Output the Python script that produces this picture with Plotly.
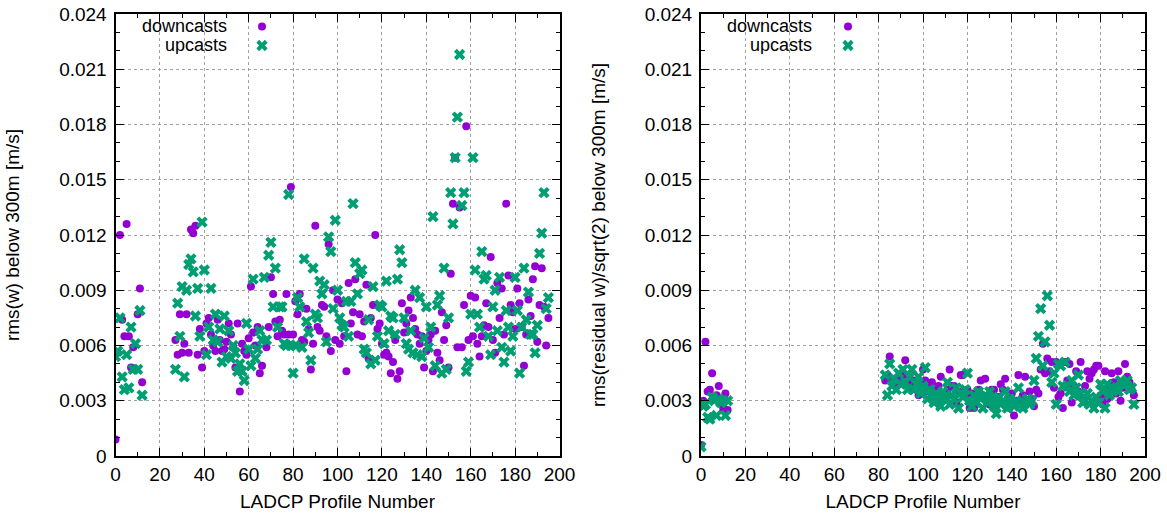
import plotly.graph_objects as go

# ---------------- data ----------------
# left panel: rms(w) below 300m
left_profiles = list(range(0, 13)) + list(range(27, 196))
left_down = [
    0.0009, 0.0056, 0.0120, 0.0074, 0.0065, 0.0126, 0.0065, 0.0048, 0.0059, 0.0047, 0.0077, 0.0091, 0.0040,
    # 27-
    0.0063, 0.0055, 0.0077, 0.0056, 0.0061, 0.0077, 0.0056, 0.0123, 0.0121, 0.0125,
    0.0055, 0.0069, 0.0048, 0.0057, 0.0072, 0.0075, 0.0066, 0.0060, 0.0057, 0.0074,
    0.0063, 0.0057, 0.0058, 0.0062, 0.0072, 0.0066, 0.0059, 0.0048, 0.0072, 0.0035,
    0.0061, 0.0057, 0.0055, 0.0064, 0.0092, 0.0067, 0.0060, 0.0070, 0.0045, 0.0049,
    0.0063, 0.0059, 0.0070, 0.0097, 0.0088, 0.0073, 0.0065, 0.0074, 0.0068, 0.0066,
    0.0088, 0.0066, 0.0146, 0.0066, 0.0084, 0.0077, 0.0088, 0.0063, 0.0062, 0.0080,
    0.0069, 0.0047, 0.0061, 0.0125, 0.0070, 0.0068, 0.0082, 0.0081, 0.0065, 0.0115,
    0.0057, 0.0090, 0.0063, 0.0085, 0.0061, 0.0083, 0.0065, 0.0046, 0.0094, 0.0072,
    0.0078, 0.0096, 0.0066, 0.0077, 0.0065, 0.0073, 0.0093, 0.0053, 0.0075, 0.0082,
    0.0120, 0.0069, 0.0072, 0.0061, 0.0055, 0.0056, 0.0054, 0.0045, 0.0051, 0.0063,
    0.0042, 0.0046, 0.0083, 0.0067, 0.0072, 0.0079, 0.0086, 0.0075, 0.0069, 0.0066,
    0.0061, 0.0065, 0.0048, 0.0057, 0.0063, 0.0066, 0.0046, 0.0068, 0.0056, 0.0052,
    0.0078, 0.0063, 0.0071, 0.0048, 0.0099, 0.0137, 0.0162, 0.0059, 0.0135, 0.0059,
    0.0082, 0.0179, 0.0063, 0.0087, 0.0065, 0.0086, 0.0061, 0.0054, 0.0065, 0.0071,
    0.0083, 0.0070, 0.0108, 0.0063, 0.0056, 0.0094, 0.0075, 0.0091, 0.0066, 0.0137,
    0.0098, 0.0082, 0.0078, 0.0069, 0.0091, 0.0083, 0.0070, 0.0049, 0.0066, 0.0085,
    0.0076, 0.0096, 0.0103, 0.0062, 0.0082, 0.0102, 0.0081, 0.0060, 0.0075,
]
left_up = [
    0.0054, 0.0057, 0.0075, 0.0043, 0.0036, 0.0055, 0.0037, 0.0070, 0.0047, 0.0061, 0.0047, 0.0079, 0.0033,
    # 27-
    0.0047, 0.0083, 0.0065, 0.0092, 0.0043, 0.0090, 0.0104, 0.0107, 0.0100, 0.0076,
    0.0091, 0.0065, 0.0127, 0.0101, 0.0055, 0.0070, 0.0091, 0.0063, 0.0077, 0.0062,
    0.0069, 0.0051, 0.0076, 0.0054, 0.0068, 0.0053, 0.0060, 0.0056, 0.0046, 0.0050,
    0.0046, 0.0041, 0.0072, 0.0058, 0.0049, 0.0096, 0.0053, 0.0058, 0.0068, 0.0063,
    0.0097, 0.0063, 0.0109, 0.0116, 0.0081, 0.0102, 0.0070, 0.0081, 0.0081, 0.0061,
    0.0060, 0.0142, 0.0060, 0.0045, 0.0060, 0.0086, 0.0081, 0.0059, 0.0107, 0.0073,
    0.0067, 0.0052, 0.0102, 0.0077, 0.0075, 0.0095, 0.0088, 0.0093, 0.0062, 0.0119,
    0.0111, 0.0080, 0.0128, 0.0090, 0.0075, 0.0071, 0.0070, 0.0084, 0.0065, 0.0084,
    0.0137, 0.0105, 0.0088, 0.0099, 0.0101, 0.0058, 0.0056, 0.0074, 0.0050, 0.0092,
    0.0052, 0.0065, 0.0082, 0.0081, 0.0061, 0.0095, 0.0068, 0.0076, 0.0075, 0.0066,
    0.0096, 0.0112, 0.0105, 0.0075, 0.0061, 0.0058, 0.0068, 0.0056, 0.0090, 0.0055,
    0.0086, 0.0054, 0.0064, 0.0081, 0.0059, 0.0070, 0.0130, 0.0049, 0.0082, 0.0087,
    0.0045, 0.0102, 0.0047, 0.0075, 0.0143, 0.0126, 0.0162, 0.0184, 0.0218, 0.0136,
    0.0143, 0.0046, 0.0051, 0.0077, 0.0162, 0.0101, 0.0077, 0.0070, 0.0111, 0.0096,
    0.0098, 0.0065, 0.0055, 0.0081, 0.0090, 0.0068, 0.0097, 0.0059, 0.0051, 0.0079,
    0.0070, 0.0057, 0.0065, 0.0097, 0.0079, 0.0045, 0.0070, 0.0102, 0.0074, 0.0089,
    0.0066, 0.0066, 0.0056, 0.0071, 0.0110, 0.0121, 0.0143, 0.0080, 0.0086,
]

# right panel: rms(residual w)/sqrt(2) below 300m
right_profiles = list(range(0, 13)) + list(range(83, 196))
right_down = [
    0.0006, 0.0030, 0.0062, 0.0035, 0.0036, 0.0045, 0.0032, 0.0033, 0.0038, 0.0029, 0.0026, 0.0034, 0.0025,
    # 83-
    0.0041, 0.0044, 0.0054, 0.0040, 0.0042, 0.0038, 0.0043, 0.0041, 0.0044, 0.0052,
    0.0039, 0.0042, 0.0037, 0.0041, 0.0036, 0.0033, 0.0039, 0.0047, 0.0041, 0.0035,
    0.0037, 0.0040, 0.0032, 0.0036, 0.0038, 0.0043, 0.0034, 0.0031, 0.0036, 0.0047,
    0.0038, 0.0038, 0.0029, 0.0035, 0.0044, 0.0044, 0.0033, 0.0036, 0.0026, 0.0034,
    0.0026, 0.0030, 0.0036, 0.0041, 0.0033, 0.0042, 0.0029, 0.0028, 0.0036, 0.0036,
    0.0032, 0.0032, 0.0039, 0.0036, 0.0042, 0.0030, 0.0026, 0.0034, 0.0022, 0.0030,
    0.0044, 0.0028, 0.0033, 0.0043, 0.0030, 0.0035, 0.0031, 0.0027, 0.0036, 0.0034,
    0.0047, 0.0061, 0.0045, 0.0053, 0.0046, 0.0051, 0.0037, 0.0051, 0.0032, 0.0034,
    0.0026, 0.0051, 0.0041, 0.0050, 0.0029, 0.0038, 0.0046, 0.0035, 0.0051, 0.0031,
    0.0038, 0.0046, 0.0042, 0.0045, 0.0047, 0.0049, 0.0049, 0.0033, 0.0028, 0.0046,
    0.0031, 0.0036, 0.0045, 0.0040, 0.0034, 0.0046, 0.0030, 0.0037, 0.0050, 0.0043,
    0.0040, 0.0036, 0.0033,
]
right_up = [
    0.0005, 0.0027, 0.0028, 0.0021, 0.0020, 0.0032, 0.0030, 0.0022, 0.0031, 0.0029, 0.0030, 0.0022, 0.0030,
    # 83-
    0.0044, 0.0033, 0.0050, 0.0038, 0.0042, 0.0036, 0.0045, 0.0039, 0.0047, 0.0040,
    0.0036, 0.0043, 0.0047, 0.0036, 0.0039, 0.0043, 0.0034, 0.0038, 0.0048, 0.0031,
    0.0036, 0.0033, 0.0029, 0.0034, 0.0030, 0.0027, 0.0035, 0.0031, 0.0040, 0.0028,
    0.0033, 0.0031, 0.0037, 0.0026, 0.0034, 0.0032, 0.0036, 0.0045, 0.0030, 0.0027,
    0.0033, 0.0029, 0.0035, 0.0031, 0.0026, 0.0033, 0.0029, 0.0035, 0.0031, 0.0027,
    0.0023, 0.0032, 0.0028, 0.0030, 0.0035, 0.0026, 0.0031, 0.0029, 0.0027, 0.0030,
    0.0037, 0.0028, 0.0026, 0.0029, 0.0031, 0.0028, 0.0030, 0.0041, 0.0053, 0.0065,
    0.0080, 0.0049, 0.0062, 0.0087, 0.0071, 0.0040, 0.0045, 0.0028, 0.0050, 0.0049,
    0.0038, 0.0051, 0.0038, 0.0035, 0.0041, 0.0033, 0.0037, 0.0044, 0.0034, 0.0029,
    0.0030, 0.0034, 0.0028, 0.0030, 0.0026, 0.0032, 0.0029, 0.0039, 0.0035, 0.0026,
    0.0039, 0.0033, 0.0037, 0.0036, 0.0037, 0.0035, 0.0041, 0.0039, 0.0039, 0.0041,
    0.0036, 0.0037, 0.0028,
]

x_ticks = [0, 20, 40, 60, 80, 100, 120, 140, 160, 180, 200]
y_tickvals = [0, 0.003, 0.006, 0.009, 0.012, 0.015, 0.018, 0.021, 0.024]
y_ticktext = ["0", "0.003", "0.006", "0.009", "0.012", "0.015", "0.018", "0.021", "0.024"]

series_names = ["downcasts", "upcasts"]
colors = ["#9400d3", "#009e73"]

# ---------------- figure ----------------
W, H = 1167, 515
fig = go.Figure()

def px_x(p):  # window pixel -> paper fraction
    return p / W

def px_y(p):
    return 1 - p / H

def add_panel(xaxis, yaxis, legend, profs, down, up):
    fig.add_trace(go.Scatter(
        x=profs, y=down, mode="markers", name="", showlegend=True,
        xaxis=xaxis, yaxis=yaxis, legend=legend,
        marker=dict(symbol="circle", size=8, color=colors[0], line=dict(width=0)),
    ))
    fig.add_trace(go.Scatter(
        x=profs, y=up, mode="markers", name="", showlegend=True,
        xaxis=xaxis, yaxis=yaxis, legend=legend,
        marker=dict(symbol="x", size=10, color=colors[1], line=dict(width=0)),
    ))

add_panel("x", "y", "legend", left_profiles, left_down, left_up)
add_panel("x2", "y2", "legend2", right_profiles, right_down, right_up)

family = "Liberation Sans, Arial, sans-serif"
font = dict(family=family, size=19, color="black")
tick_font = dict(family=family, size=19, color="black")
key_font = dict(family=family, size=18, color="black")

axis_common = dict(
    showline=True, linecolor="black", linewidth=2, mirror="allticks",
    ticks="inside", ticklen=8, tickwidth=1, tickcolor="black",
    showgrid=True, gridcolor="#a0a0a0", gridwidth=1, griddash="dot",
    zeroline=False, tickfont=tick_font, automargin=False, ticklabeloverflow="allow",
)

ydom = [px_y(456), px_y(14)]
legend_common = dict(xanchor="left", yanchor="top", bgcolor="rgba(0,0,0,0)",
                     font=dict(size=11), tracegroupgap=0, itemwidth=30, itemsizing="trace")
fig.update_layout(
    width=W, height=H,
    margin=dict(l=0, r=0, t=0, b=0),
    paper_bgcolor="white", plot_bgcolor="white",
    font=font,
    xaxis=dict(domain=[px_x(115.5), px_x(559.5)], range=[0, 200], tickvals=x_ticks,
               minor=dict(ticks="inside", ticklen=4, dtick=10, tickcolor="black", showgrid=False),
               title=dict(text="LADCP Profile Number", font=font, standoff=11), anchor="y", **axis_common),
    yaxis=dict(domain=ydom, range=[0, 0.024], tickvals=y_tickvals, ticktext=y_ticktext,
               ticklabelstandoff=3,
               minor=dict(ticks="inside", ticklen=4, dtick=0.001, tickcolor="black", showgrid=False),
               title=dict(text="rms(w) below 300m [m/s]", font=font, standoff=35), anchor="x", **axis_common),
    xaxis2=dict(domain=[px_x(701), px_x(1145)], range=[0, 200], tickvals=x_ticks,
                minor=dict(ticks="inside", ticklen=4, dtick=10, tickcolor="black", showgrid=False),
                title=dict(text="LADCP Profile Number", font=font, standoff=11), anchor="y2", **axis_common),
    yaxis2=dict(domain=ydom, range=[0, 0.024], tickvals=y_tickvals, ticktext=y_ticktext,
                ticklabelstandoff=3,
                minor=dict(ticks="inside", ticklen=4, dtick=0.001, tickcolor="black", showgrid=False),
                title=dict(text="rms(residual w)/sqrt(2) below 300m [m/s]", font=font, standoff=34), anchor="x2", **axis_common),
    legend=dict(x=px_x(242), y=px_y(12), **legend_common),
    legend2=dict(x=px_x(828), y=px_y(12), **legend_common),
)

# legend labels (text right-aligned, to the left of the sample marker, as in the original)
for xr in (228, 813):
    for i, name in enumerate(series_names):
        fig.add_annotation(text=name, x=px_x(xr), y=px_y(26 + 19 * i), xref="paper", yref="paper",
                           xanchor="right", yanchor="middle", showarrow=False, font=key_font,
                           height=19, borderpad=0, valign="middle")

# remove the page's default body margin so the figure fills the window exactly
fig.write_html("out.html", config={"displayModeBar": False},
               post_script="document.body.style.margin='0';")
